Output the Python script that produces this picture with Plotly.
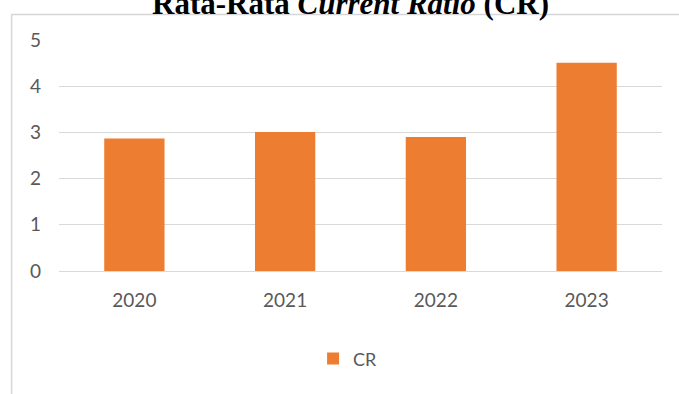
import plotly.graph_objects as go

# Average current ratio per year
years = ["2020", "2021", "2022", "2023"]
cr_values = [2.87, 3.01, 2.90, 4.51]
y_ticks = [0, 1, 2, 3, 4, 5]

BAR_COLOR = "#ED7D31"
GRID_COLOR = "#D9D9D9"
TEXT_COLOR = "#595959"

fig = go.Figure()
fig.add_trace(go.Bar(
    x=years,
    y=cr_values,
    name="CR",
    marker=dict(color=BAR_COLOR, line=dict(width=0)),
))

# plot area geometry (px)
W, H = 679, 394
L, R, T, B = 58.5, 16.5, 39.5, 123
pw, ph = W - L - R, H - T - B

def px_x(x):
    return (x - L) / pw

def px_y(y):
    return (H - B - y) / ph

fig.update_layout(
    width=W,
    height=H,
    margin=dict(l=L, r=R, t=T, b=B, pad=0),
    paper_bgcolor="white",
    plot_bgcolor="white",
    bargap=0.6,
    font=dict(family="Lato, 'Open Sans', sans-serif", size=18, color=TEXT_COLOR),
    showlegend=True,
    legend=dict(
        orientation="h",
        x=px_x(313), xanchor="left",
        y=px_y(359), yanchor="middle",
        font=dict(size=18, color=TEXT_COLOR),
        itemwidth=30,
        bgcolor="rgba(0,0,0,0)",
    ),
    xaxis=dict(
        showgrid=False,
        showline=False,
        zeroline=False,
        ticks="",
        ticklabelstandoff=16,
        tickfont=dict(size=19, color=TEXT_COLOR),
    ),
    yaxis=dict(
        range=[0, 5],
        tickvals=y_ticks,
        showgrid=True,
        gridcolor=GRID_COLOR,
        gridwidth=1,
        zeroline=True,
        zerolinecolor=GRID_COLOR,
        zerolinewidth=1,
        showline=False,
        ticks="",
        ticklabelstandoff=17,
        tickfont=dict(size=19, color=TEXT_COLOR),
    ),
    annotations=[dict(
        text="<b>Rata-Rata <i>Current Ratio</i> (CR)</b>",
        xref="paper", yref="paper",
        x=px_x(350), y=px_y(3),
        xanchor="center", yanchor="middle",
        showarrow=False,
        font=dict(family="'Liberation Serif', 'Times New Roman', serif", size=31, color="black"),
    )],
    shapes=[dict(
        type="rect",
        xref="paper", yref="paper",
        x0=px_x(11), x1=px_x(700),
        y0=px_y(420), y1=px_y(14),
        line=dict(color="#D6D6D6", width=1.5),
        fillcolor="rgba(0,0,0,0)",
        layer="below",
    )],
)

fig.write_html("out.html")
